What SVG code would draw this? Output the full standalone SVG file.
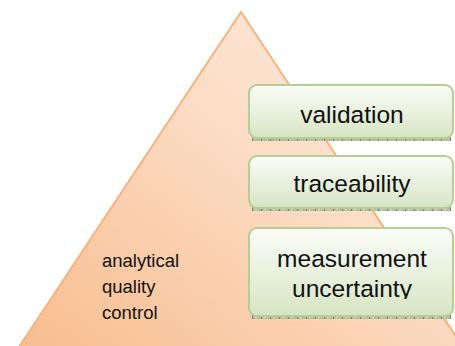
<svg xmlns="http://www.w3.org/2000/svg" width="455" height="346" viewBox="0 0 455 346">
  <defs>
    <linearGradient id="pyramidFill" x1="1" y1="0" x2="0" y2="1">
      <stop offset="0" stop-color="#fdeee3"/>
      <stop offset="0.45" stop-color="#fcdcc4"/>
      <stop offset="1" stop-color="#f8bd8f"/>
    </linearGradient>
    <linearGradient id="boxFill" x1="0" y1="0" x2="0" y2="1">
      <stop offset="0" stop-color="#fafcf7"/>
      <stop offset="0.5" stop-color="#e9f1df"/>
      <stop offset="1" stop-color="#d6e5c2"/>
    </linearGradient>
    <pattern id="edgeTicks" x="0" y="0" width="9" height="4" patternUnits="userSpaceOnUse">
      <rect width="9" height="4" fill="#b9bca3"/>
      <rect x="0" y="0" width="1" height="4" fill="#7f826b"/>
      <rect x="3" y="1" width="2" height="1" fill="#d8dac8"/>
    </pattern>
    <style>
      .box { fill: url(#boxFill); stroke: #b4cf94; stroke-width: 2; }
      .edge { fill: url(#edgeTicks); }
      .label { font-family: "Liberation Sans", Arial, sans-serif; font-size: 24.5px; fill: #111; text-anchor: middle; }
      .side { font-family: "Liberation Sans", Arial, sans-serif; font-size: 18.5px; fill: #111; }
    </style>
  </defs>

  <g id="pyramid">
    <polygon points="241,12 19,347 463,347" fill="url(#pyramidFill)" stroke="#f7b27e" stroke-width="2"/>
    <text class="side" x="102" y="267">analytical</text>
    <text class="side" x="102" y="293">quality</text>
    <text class="side" x="102" y="319">control</text>
  </g>

  <g id="validation">
    <rect class="edge" x="252" y="137" width="199" height="4"/>
    <rect class="box" x="249" y="85" width="204" height="53" rx="8"/>
    <text class="label" x="352" y="123">validation</text>
  </g>

  <g id="traceability">
    <rect class="edge" x="252" y="207" width="199" height="4"/>
    <rect class="box" x="249" y="156" width="204" height="52" rx="8"/>
    <text class="label" x="352" y="192">traceability</text>
  </g>

  <g id="measurement-uncertainty">
    <clipPath id="muClip">
      <rect x="249" y="228" width="204" height="71"/>
    </clipPath>
    <rect class="edge" x="252" y="315" width="199" height="4"/>
    <rect class="box" x="249" y="228" width="204" height="88" rx="8"/>
    <g clip-path="url(#muClip)">
      <text class="label" x="352" y="267">measurement</text>
      <text class="label" x="352" y="297">uncertainty</text>
    </g>
  </g>

  <g id="connectors"/>
</svg>
